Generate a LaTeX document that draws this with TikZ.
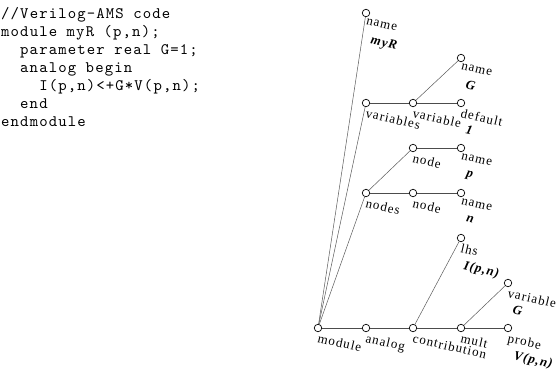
\documentclass[tikz,border=0pt]{standalone}
\usepackage{fontspec}
\setmainfont{Liberation Serif}
\newfontfamily\codefont[LetterSpace=7]{lmmono10-regular.otf}
\newfontfamily\lblfont[LetterSpace=8]{Liberation Serif}
\usetikzlibrary{positioning}

\begin{document}
\begin{tikzpicture}[x=1pt,y=-1pt]
\tikzstyle{every node}+=[inner sep=0pt]
\tikzstyle{dot}=[draw=black, fill=white, circle, minimum size=7.5pt, line width=0.7pt]
\tikzstyle{lbl}=[anchor=north west, rotate=-13, font=\lblfont\fontsize{13}{13}\selectfont]
\tikzstyle{val}=[anchor=north west, rotate=-13, font=\lblfont\bfseries\itshape\fontsize{13}{13}\selectfont]
\tikzstyle{edge}=[draw=black!70, line width=0.7pt]
\tikzstyle{spoke}=[draw=black!65, line width=0.5pt]
\useasboundingbox (0,0) rectangle (557,368);
% source text
\node (code) [anchor=north west, align=left, font=\codefont\fontsize{16}{18}\selectfont] at (1,7)
  {//Verilog-AMS code\\module myR (p,n);\\~~parameter real G=1;\\~~analog begin\\~~~~I(p,n)<+G*V(p,n);\\~~end\\endmodule};
% tree nodes
\node [dot] (nmR) at (366,13) {};
\node [dot] (vars) at (366,103) {};
\node [dot] (var) at (413,103) {};
\node [dot] (dflt) at (461,103) {};
\node [dot] (nmG) at (461,58) {};
\node [dot] (ndA) at (413,148) {};
\node [dot] (nmP) at (461,148) {};
\node [dot] (nds) at (366,193) {};
\node [dot] (ndB) at (413,193) {};
\node [dot] (nmN) at (461,193) {};
\node [dot] (lhs) at (461,238) {};
\node [dot] (varG) at (508,283) {};
\node [dot] (mod) at (318,328) {};
\node [dot] (anl) at (366,328) {};
\node [dot] (contr) at (413,328) {};
\node [dot] (mult) at (461,328) {};
\node [dot] (prb) at (508,328) {};
% edges
\draw [spoke] (mod) -- (nmR);
\draw [spoke] (mod) -- (vars);
\draw [spoke] (mod) -- (nds);
\draw [edge] (mod) -- (anl) -- (contr) -- (mult) -- (prb);
\draw [spoke] (contr) -- (lhs);
\draw [spoke] (mult) -- (varG);
\draw [edge] (vars) -- (var) -- (dflt);
\draw [spoke] (var) -- (nmG);
\draw [edge] (nds) -- (ndB) -- (nmN);
\draw [spoke] (nds) -- (ndA);
\draw [edge] (ndA) -- (nmP);
% labels
\node [lbl] at ([shift={(1,5)}]nmR.center) {name};
\node [val] at ([shift={(6,22)}]nmR.center) {myR};
\node [lbl] at ([shift={(1,5)}]vars.center) {variables};
\node [lbl] at ([shift={(1,5)}]var.center) {variable};
\node [lbl] at ([shift={(1,5)}]dflt.center) {default};
\node [val] at ([shift={(6,22)}]dflt.center) {1};
\node [lbl] at ([shift={(1,5)}]nmG.center) {name};
\node [val] at ([shift={(6,22)}]nmG.center) {G};
\node [lbl] at ([shift={(1,5)}]ndA.center) {node};
\node [lbl] at ([shift={(1,5)}]nmP.center) {name};
\node [val] at ([shift={(6,22)}]nmP.center) {p};
\node [lbl] at ([shift={(1,5)}]nds.center) {nodes};
\node [lbl] at ([shift={(1,5)}]ndB.center) {node};
\node [lbl] at ([shift={(1,5)}]nmN.center) {name};
\node [val] at ([shift={(6,22)}]nmN.center) {n};
\node [lbl] at ([shift={(1,5)}]lhs.center) {lhs};
\node [val] at ([shift={(4,22)}]lhs.center) {I(p,n)};
\node [lbl] at ([shift={(1,5)}]varG.center) {variable};
\node [val] at ([shift={(6,22)}]varG.center) {G};
\node [lbl] at ([shift={(1,5)}]mod.center) {module};
\node [lbl] at ([shift={(1,5)}]anl.center) {analog};
\node [lbl] at ([shift={(1,5)}]contr.center) {contribution};
\node [lbl] at ([shift={(1,5)}]mult.center) {mult};
\node [lbl] at ([shift={(1,5)}]prb.center) {probe};
\node [val] at ([shift={(7,22)}]prb.center) {V(p,n)};
\end{tikzpicture}
\end{document}
